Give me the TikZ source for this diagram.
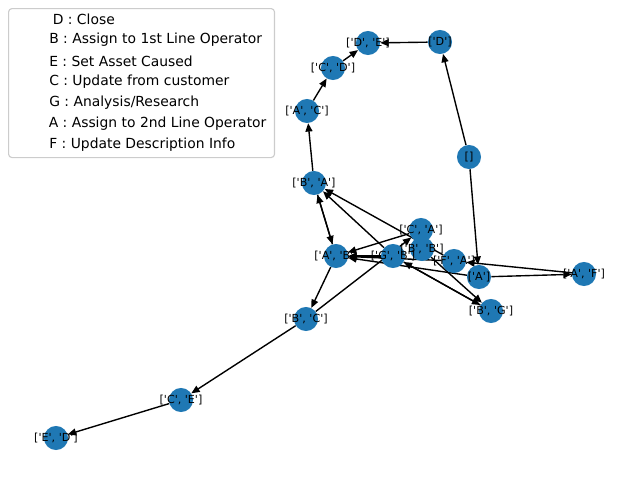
\documentclass[tikz,border=0pt]{standalone}
\usepackage{fontspec}
\setmainfont{DejaVu Sans}
\newfontfamily\labfont{DejaVu Sans}[Ligatures=TeXOff]
\usetikzlibrary{arrows.meta,backgrounds}
\definecolor{nodeblue}{HTML}{1F78B4}
\definecolor{legedge}{HTML}{CCCCCC}
\tikzset{
  gnode/.style={circle,fill=nodeblue,draw=none,minimum size=17.3pt,inner sep=0pt},
  glabel/.style={font=\labfont\fontsize{8pt}{9pt}\selectfont,inner sep=0pt,text=black},
  gedge/.style={line width=1pt,draw=black,-{Triangle[length=6pt,width=5pt]}},
  legtext/.style={font=\labfont\fontsize{10pt}{12pt}\selectfont,anchor=west,inner sep=0pt,text=black}
}
\begin{document}
\begin{tikzpicture}[x=0.72pt,y=-0.72pt]
\path[use as bounding box] (0,0) rectangle (640,480);
% nodes
\node[gnode] (root) at (469,157) {};
\node[gnode] (D)  at (440,42) {};
\node[gnode] (DE) at (368,43) {};
\node[gnode] (CD) at (333,68) {};
\node[gnode] (AC) at (307,111) {};
\node[gnode] (BA) at (314,183) {};
\node[gnode] (CA) at (421,230) {};
\node[gnode] (BB) at (422,249) {};
\node[gnode] (AB) at (336,256) {};
\node[gnode] (GB) at (393,256) {};
\node[gnode] (FA) at (454,261) {};
\node[gnode] (A)  at (479,277) {};
\node[gnode] (AF) at (584,274) {};
\node[gnode] (BG) at (491,311) {};
\node[gnode] (BC) at (306,319) {};
\node[gnode] (CE) at (181,400) {};
\node[gnode] (ED) at (56,438) {};
% labels
\node[glabel] (rootl) at (root) {[]};
\node[glabel] (Dl)  at (D)  {['D']};
\node[glabel] (DEl) at (DE) {['D', 'E']};
\node[glabel] (CDl) at (CD) {['C', 'D']};
\node[glabel] (ACl) at (AC) {['A', 'C']};
\node[glabel] (BAl) at (BA) {['B', 'A']};
\node[glabel] (CAl) at (CA) {['C', 'A']};
\node[glabel] (BBl) at (BB) {['B', 'B']};
\node[glabel] (ABl) at (AB) {['A', 'B']};
\node[glabel] (GBl) at (GB) {['G', 'B']};
\node[glabel] (FAl) at (FA) {['F', 'A']};
\node[glabel] (Al)  at (A)  {['A']};
\node[glabel] (AFl) at (AF) {['A', 'F']};
\node[glabel] (BGl) at (BG) {['B', 'G']};
\node[glabel] (BCl) at (BC) {['B', 'C']};
\node[glabel] (CEl) at (CE) {['C', 'E']};
\node[glabel] (EDl) at (ED) {['E', 'D']};
% edges
\begin{scope}[on background layer]
\draw[gedge] (root) -- (D);
\draw[gedge] (root) -- (A);
\draw[gedge] (D) -- (DE);
\draw[gedge] (CD) -- (DE);
\draw[gedge] (AC) -- (CD);
\draw[gedge] (BA) -- (AC);
\draw[gedge] (BA) -- (AB);
\draw[gedge] (AB) -- (BA);
\draw[gedge] (AB) -- (BC);
\draw[gedge] (BC) -- (CE);
\draw[gedge] (CE) -- (ED);
\draw[gedge] (BC) -- (CA);
\draw[gedge] (CA) -- (AB);
\draw[gedge] (GB) -- (AB);
\draw[gedge] (FA) -- (AB);
\draw[gedge] (A) -- (AB);
\draw[gedge] (A) -- (AF);
\draw[gedge] (AF) -- (FA);
\draw[gedge] (GB) -- (BA);
\draw[gedge] (FA) -- (BA);
\draw[gedge] (BG) -- (GB);
\draw[gedge] (GB) -- (BG);
\draw[gedge] (BB) -- (BG);
\end{scope}
% legend
\node[draw=legedge,line width=0.8pt,fill=white,fill opacity=0.8,rounded corners=2.5pt,
      minimum width=191.5pt,minimum height=107.3pt,anchor=north west,inner sep=0pt] (legend) at (8,8) {};
\node[legtext] (l1) at (52.5,19) {D : Close};
\node[legtext] (l2) at (49,40) {B : Assign to 1st Line Operator};
\node[legtext] (l3) at (49,61) {E : Set Asset Caused};
\node[legtext] (l4) at (49,82) {C : Update from customer};
\node[legtext] (l5) at (49,103) {G : Analysis/Research};
\node[legtext] (l6) at (48.5,124) {A : Assign to 2nd Line Operator};
\node[legtext] (l7) at (49,145) {F : Update Description Info};
\end{tikzpicture}
\end{document}
